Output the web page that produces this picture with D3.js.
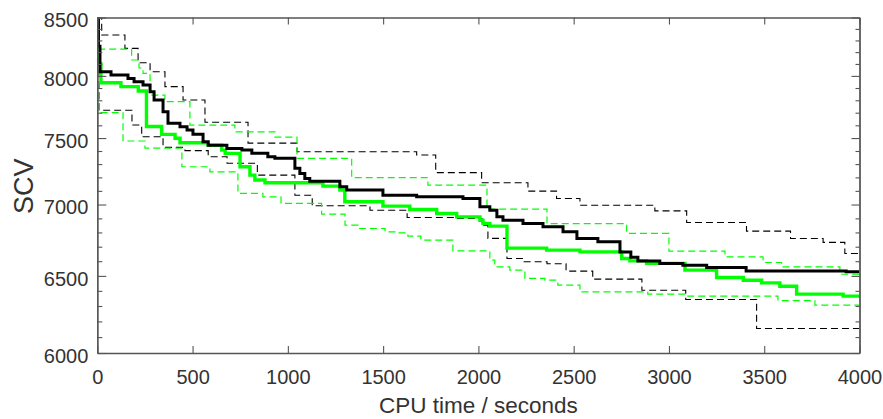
<!DOCTYPE html>
<html>
<head>
<meta charset="utf-8">
<script src="https://cdn.jsdelivr.net/npm/d3@7"></script>
<style>
  html, body { margin: 0; padding: 0; background: #fff; }
  svg { display: block; }
  text { font-family: "Liberation Sans", Arial, sans-serif; fill: #333; }
</style>
</head>
<body>
<script>
// ---- data (CPU time in seconds, SCV value) ----
const xTicks = [0, 500, 1000, 1500, 2000, 2500, 3000, 3500, 4000];
const yTicks = [6000, 6500, 7000, 7500, 8000, 8500];
const yMinorTicks = d3.range(6100, 8500, 100).filter(v => v % 500 !== 0);

const blackMean = [[0,8700],[6,8250],[14,8035],[72,8007],[161,7979],[193,7952],[240,7925],[277,7870],[298,7802],[345,7708],[371,7616],[434,7588],[471,7563],[502,7529],[555,7471],[582,7445],[680,7420],[759,7407],[811,7382],[895,7356],[932,7344],[1037,7268],[1063,7230],[1089,7192],[1115,7172],[1273,7130],[1309,7106],[1499,7068],[1676,7056],[1919,7044],[2008,6983],[2060,6959],[2097,6911],[2129,6887],[2234,6864],[2339,6840],[2444,6804],[2517,6757],[2627,6734],[2743,6664],[2800,6627],[2837,6602],[2952,6585],[3073,6573],[3198,6557],[3405,6534],[3930,6528],[4000,6528]];
const greenMean = [[0,8700],[4,8100],[19,7943],[124,7911],[215,7875],[258,7590],[338,7529],[408,7498],[434,7464],[581,7445],[653,7407],[671,7382],[749,7280],[801,7217],[827,7180],[880,7160],[1184,7135],[1273,7106],[1299,7020],[1499,6988],[1640,6964],[1781,6935],[1886,6911],[2008,6887],[2024,6864],[2060,6845],[2150,6690],[2358,6676],[2533,6664],[2752,6619],[2795,6602],[2883,6585],[3084,6539],[3250,6489],[3390,6471],[3486,6453],[3582,6431],[3670,6378],[3914,6365],[4000,6365]];
const blackUpper = [[0,8700],[23,8347],[145,8232],[214,8110],[277,8035],[355,7911],[450,7802],[565,7624],[791,7461],[1048,7394],[1676,7369],[1776,7236],[2017,7160],[2260,7098],[2410,7044],[2533,6995],[2926,6954],[3093,6871],[3407,6809],[3638,6757],[3809,6730],[3923,6653],[4000,6653]];
const blackLower = [[0,8700],[10,7720],[182,7602],[233,7510],[345,7428],[460,7403],[582,7356],[681,7306],[840,7217],[1037,7068],[1128,6991],[1431,6959],[1626,6906],[1876,6899],[2019,6852],[2050,6758],[2150,6619],[2234,6596],[2360,6583],[2460,6532],[2600,6478],[2858,6404],[3088,6343],[3460,6155],[4000,6155]];
const greenUpper = [[0,8700],[4,8225],[180,8133],[219,8066],[240,8021],[277,7842],[355,7789],[486,7602],[722,7549],[932,7508],[1048,7344],[1335,7198],[1735,7142],[2045,6966],[2360,6862],[2778,6793],[3000,6669],[3294,6630],[3494,6591],[3591,6561],[3897,6511],[4000,6511]];
const greenLower = [[0,8700],[10,7700],[135,7477],[250,7422],[444,7280],[591,7242],[738,7081],[869,7056],[964,7008],[1177,6930],[1300,6852],[1368,6828],[1510,6804],[1562,6797],[1630,6774],[1698,6746],[1866,6671],[2060,6607],[2086,6561],[2165,6539],[2244,6483],[2349,6471],[2417,6438],[2533,6393],[2889,6378],[3089,6365],[3572,6335],[3766,6306],[4000,6306]];

const W = 883, H = 419;
const L = 97.3, R = 859.5, T = 17.5, B = 353;

const svg = d3.select("body").append("svg").attr("width", W).attr("height", H);

const x = d3.scaleLinear().domain([0, 4000]).range([L, R]);
const y = d3.scaleLog().domain([6000, 8500]).range([B, T]);

svg.append("defs").append("clipPath").attr("id", "plot")
  .append("rect").attr("x", L).attr("y", T).attr("width", R - L).attr("height", B - T);

const line = d3.line().x(d => x(d[0])).y(d => y(d[1])).curve(d3.curveStepAfter);
const g = svg.append("g").attr("clip-path", "url(#plot)");

const series = [
  {d: blackUpper, c: "#000", w: 1.1, dash: "7,4"},
  {d: blackLower, c: "#000", w: 1.1, dash: "7,4"},
  {d: greenUpper, c: "#00ff00", w: 1.2, dash: "7,4"},
  {d: greenLower, c: "#00ff00", w: 1.2, dash: "7,4"},
  {d: greenMean, c: "#00ff00", w: 3.4, dash: null},
  {d: blackMean, c: "#000", w: 3, dash: null}
];
series.forEach(s => {
  g.append("path").attr("d", line(s.d)).attr("fill", "none")
    .attr("stroke", s.c).attr("stroke-width", s.w)
    .attr("stroke-dasharray", s.dash);
});

const axisColor = "#555";
function style(sel) {
  sel.selectAll(".domain").attr("stroke", axisColor).attr("stroke-width", 1.3);
  sel.selectAll(".tick line").attr("stroke", axisColor).attr("stroke-width", 1.1);
  sel.selectAll("text").attr("font-size", 20).attr("fill", "#333")
    .attr("font-family", '"Liberation Sans", Arial, sans-serif');
}

// bottom
svg.append("g").attr("transform", `translate(0,${B})`)
  .call(d3.axisBottom(x).tickValues(xTicks).tickSizeInner(-7).tickSizeOuter(0).tickPadding(17).tickFormat(d3.format("d")))
  .call(style);
// top
svg.append("g").attr("transform", `translate(0,${T})`)
  .call(d3.axisTop(x).tickValues(xTicks).tickSizeInner(-7).tickSizeOuter(0).tickFormat(""))
  .call(style);
// left major + minor
const leftAx = svg.append("g").attr("transform", `translate(${L},0)`)
  .call(d3.axisLeft(y).tickValues(yTicks).tickSizeInner(-9).tickSizeOuter(0).tickPadding(9).tickFormat(d3.format("d")))
  .call(style);
leftAx.selectAll("text").attr("dy", "0.46em");
svg.append("g").attr("transform", `translate(${L},0)`)
  .call(d3.axisLeft(y).tickValues(yMinorTicks).tickSizeInner(-5).tickSizeOuter(0).tickFormat(""))
  .call(style);
// right major + minor
svg.append("g").attr("transform", `translate(${R},0)`)
  .call(d3.axisRight(y).tickValues(yTicks).tickSizeInner(-8).tickSizeOuter(0).tickFormat(""))
  .call(style);
svg.append("g").attr("transform", `translate(${R},0)`)
  .call(d3.axisRight(y).tickValues(yMinorTicks).tickSizeInner(-4).tickSizeOuter(0).tickFormat(""))
  .call(style);

// axis titles
svg.append("text").attr("x", (L + R) / 2).attr("y", 413).attr("text-anchor", "middle")
  .attr("font-size", 22.5).text("CPU time / seconds");
svg.append("text").attr("transform", `translate(33,${(T + B) / 2 + 1}) rotate(-90)`)
  .attr("text-anchor", "middle").attr("font-size", 27).text("SCV");
</script>
</body>
</html>
